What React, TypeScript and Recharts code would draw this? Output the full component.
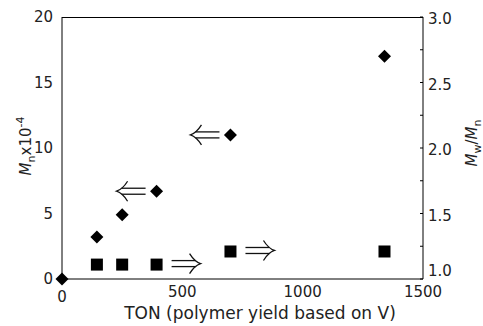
import React from "react";
import { ScatterChart, Scatter, XAxis, YAxis, Label } from "recharts";

// TON values (x) and molecular weight data
const mnTon = [0, 145, 250, 393, 700, 1340];
const mnValues = [0, 3.2, 4.9, 6.7, 11.0, 17.0];
const pdiTon = [145, 250, 393, 700, 1340];
const pdiValues = [1.11, 1.11, 1.11, 1.21, 1.21];
// points marked with an arrow showing which axis they belong to
const arrowTons = [393, 700];

const xTicks = [0, 500, 1000, 1500];
const leftTicks = [0, 5, 10, 15, 20];
const rightTicks = [1, 1.25, 1.5, 1.75, 2, 2.25, 2.5, 2.75, 3];

const mnData = mnTon.map((ton, i) => ({ ton, mn: mnValues[i] }));
const pdiData = pdiTon.map((ton, i) => ({ ton, pdi: pdiValues[i] }));
const mnArrows = mnData.filter((d) => arrowTons.includes(d.ton));
const pdiArrows = pdiData.filter((d) => arrowTons.includes(d.ton));

const FONT = "'DejaVu Sans', sans-serif";
const INK = "#000";

const Diamond = (p: any) => (
  <path
    d={`M${p.cx},${p.cy - 6.5} L${p.cx + 6.5},${p.cy} L${p.cx},${p.cy + 6.5} L${p.cx - 6.5},${p.cy} Z`}
    fill={INK}
  />
);

const Square = (p: any) => (
  <rect x={p.cx - 6} y={p.cy - 6} width={12} height={12} fill={INK} />
);

// double arrow from tail to tip
function drawArrow(tip: number, tail: number, cy: number) {
  const dir = tip < tail ? -1 : 1;
  const back = tip - dir * 11;
  return (
    <g fill="none" stroke="#111" strokeWidth={1.3}>
      <line x1={tip - dir * 5} y1={cy - 3} x2={tail} y2={cy - 3} />
      <line x1={tip - dir * 5} y1={cy + 3} x2={tail} y2={cy + 3} />
      <path d={`M${back},${cy - 10} Q${tip - dir * 6},${cy - 2} ${tip},${cy} Q${tip - dir * 6},${cy + 2} ${back},${cy + 10}`} />
    </g>
  );
}

const LeftArrow = (p: any) => drawArrow(p.cx - 40, p.cx - 11, p.cy);
const RightArrow = (p: any) => drawArrow(p.cx + 44, p.cx + 15, p.cy - 1);

const XTick = (p: any) => {
  const v = p.payload.value;
  return (
    <text
      x={p.x}
      y={p.y + (v === 0 ? 5 : 0)}
      dy="0.71em"
      textAnchor="middle"
      fontSize={15}
      fontFamily={FONT}
      fill="#222"
    >
      {v}
    </text>
  );
};

const RightTick = (p: any) => {
  const v = p.payload.value;
  const major = Math.abs(v * 2 - Math.round(v * 2)) < 1e-6;
  if (!major) return null;
  return (
    <text
      x={p.x}
      y={p.y + (v === 1 ? -8 : 2)}
      dy="0.355em"
      textAnchor="start"
      fontSize={15}
      fontFamily={FONT}
      fill="#222"
    >
      {v.toFixed(1)}
    </text>
  );
};

export default function App() {
  return (
    <div style={{ position: "absolute", left: 0, top: 0, width: 483, height: 326, background: "#fff" }}>
      <ScatterChart
        width={483}
        height={326}
        margin={{ top: 17, right: 0, bottom: 0, left: 0 }}
      >
        <XAxis
          type="number"
          dataKey="ton"
          domain={[0, 1500]}
          ticks={xTicks}
          height={47}
          tickLine={false}
          tickSize={6}
          tickMargin={1}
          axisLine={{ stroke: INK }}
          tick={<XTick />}
        >
          <Label
            content={() => (
              <text x={260} y={319} textAnchor="middle" fontSize={17} fontFamily={FONT} fill="#222">
                TON (polymer yield based on V)
              </text>
            )}
          />
        </XAxis>
        <YAxis
          yAxisId="mn"
          type="number"
          domain={[0, 20]}
          ticks={leftTicks}
          width={62}
          tickLine={false}
          tickSize={6}
          tickMargin={3}
          axisLine={{ stroke: INK }}
          tick={{ fontSize: 15, fontFamily: FONT, fill: "#222" }}
        >
          <Label
            content={() => (
              <text
                transform="translate(31,146) rotate(-90)"
                textAnchor="middle"
                fontSize={15}
                fontFamily={FONT}
                fill="#222"
              >
                <tspan fontStyle="italic">M</tspan>
                <tspan fontSize={11} dy={4}>n</tspan>
                <tspan dy={-4}>x10</tspan>
                <tspan fontSize={11} dy={-7}>-4</tspan>
              </text>
            )}
          />
        </YAxis>
        <YAxis
          yAxisId="pdi"
          orientation="right"
          type="number"
          domain={[1, 3]}
          ticks={rightTicks}
          width={60}
          tickSize={-3}
          tickMargin={8}
          tickLine={{ stroke: INK }}
          axisLine={{ stroke: INK }}
          tick={<RightTick />}
        >
          <Label
            content={() => (
              <text
                transform="translate(477,143) rotate(-90)"
                textAnchor="middle"
                fontSize={15}
                fontFamily={FONT}
                fill="#222"
              >
                <tspan fontStyle="italic">M</tspan>
                <tspan fontSize={11} dy={4}>w</tspan>
                <tspan dy={-4}>/</tspan>
                <tspan fontStyle="italic">M</tspan>
                <tspan fontSize={11} dy={4}>n</tspan>
              </text>
            )}
          />
        </YAxis>
        <Scatter data={mnData} dataKey="mn" yAxisId="mn" shape={Diamond} isAnimationActive={false} />
        <Scatter data={pdiData} dataKey="pdi" yAxisId="pdi" shape={Square} isAnimationActive={false} />
        <Scatter data={mnArrows} dataKey="mn" yAxisId="mn" shape={LeftArrow} isAnimationActive={false} />
        <Scatter data={pdiArrows} dataKey="pdi" yAxisId="pdi" shape={RightArrow} isAnimationActive={false} />
      </ScatterChart>
      {/* top edge of the plot frame */}
      <div
        style={{
          position: "absolute",
          left: 62,
          top: 17,
          width: 361,
          height: 1,
          background: INK,
          zIndex: 5,
          pointerEvents: "none",
        }}
      />
    </div>
  );
}
